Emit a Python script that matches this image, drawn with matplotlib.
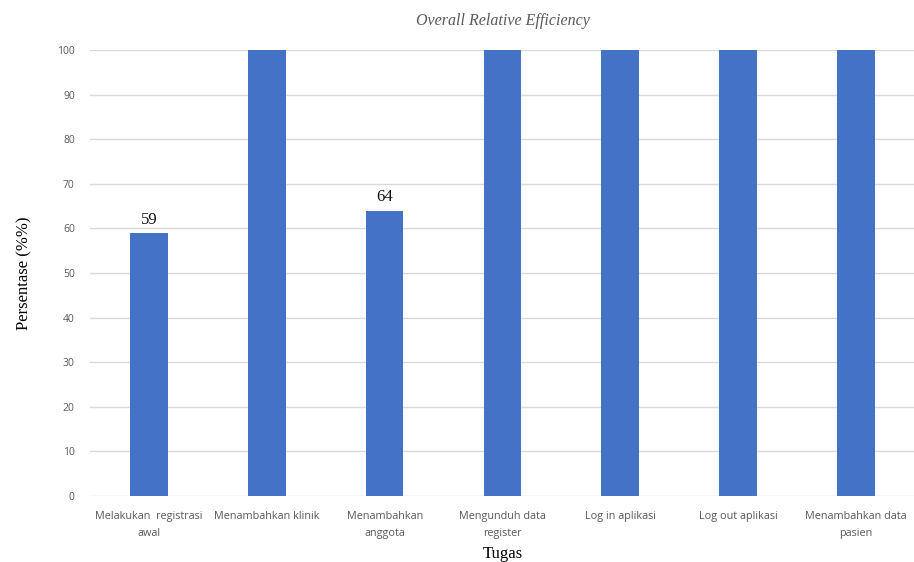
import matplotlib
matplotlib.use("Agg")
import matplotlib.pyplot as plt

tugas = ["Melakukan  registrasi\nawal", "Menambahkan klinik", "Menambahkan\nanggota",
         "Mengunduh data\nregister", "Log in aplikasi", "Log out aplikasi", "Menambahkan data\npasien"]
efisiensi = [59, 100, 64, 100, 100, 100, 100]
label_nilai = [59, None, 64, None, None, None, None]
y_ticks = [0, 10, 20, 30, 40, 50, 60, 70, 80, 90, 100]

fig = plt.figure(figsize=(9.14, 5.62), dpi=100)
ax = fig.add_axes([0.0985, 0.1174, 0.9025, 0.7936])

x = list(range(len(tugas)))
bars = ax.bar(x, efisiensi, width=0.32, color="#4472C4", zorder=3)

for b, v in zip(bars, label_nilai):
    if v is not None:
        ax.text(b.get_x() + b.get_width() / 2, v + 1.2, str(v), ha="center", va="bottom",
                fontsize=12, family="Liberation Serif", color="#111111")

ax.set_xlim(-0.5, 6.5)
ax.set_ylim(0, 100)
ax.set_yticks(y_ticks)
ax.set_xticks(x)
ax.set_xticklabels(tugas, fontsize=7.8, color="#595959", family="Open Sans", linespacing=1.75)
ax.tick_params(axis="y", labelsize=7.5, labelcolor="#595959", length=0, pad=11)
ax.tick_params(axis="x", length=0, pad=11)
for t in ax.get_yticklabels():
    t.set_family("Open Sans")

ax.grid(axis="y", color="#d9d9d9", linewidth=1.0, zorder=0)
for s in ax.spines.values():
    s.set_visible(False)

ax.set_title("Overall Relative Efficiency", fontsize=11.5, style="italic",
             family="Liberation Serif", color="#595959", pad=18)
ax.set_xlabel("Tugas", fontsize=12, family="Liberation Serif", labelpad=5)
ax.set_ylabel("Persentase (%%)", fontsize=12, family="Liberation Serif", labelpad=18)

fig.savefig("out.png", dpi=100)
